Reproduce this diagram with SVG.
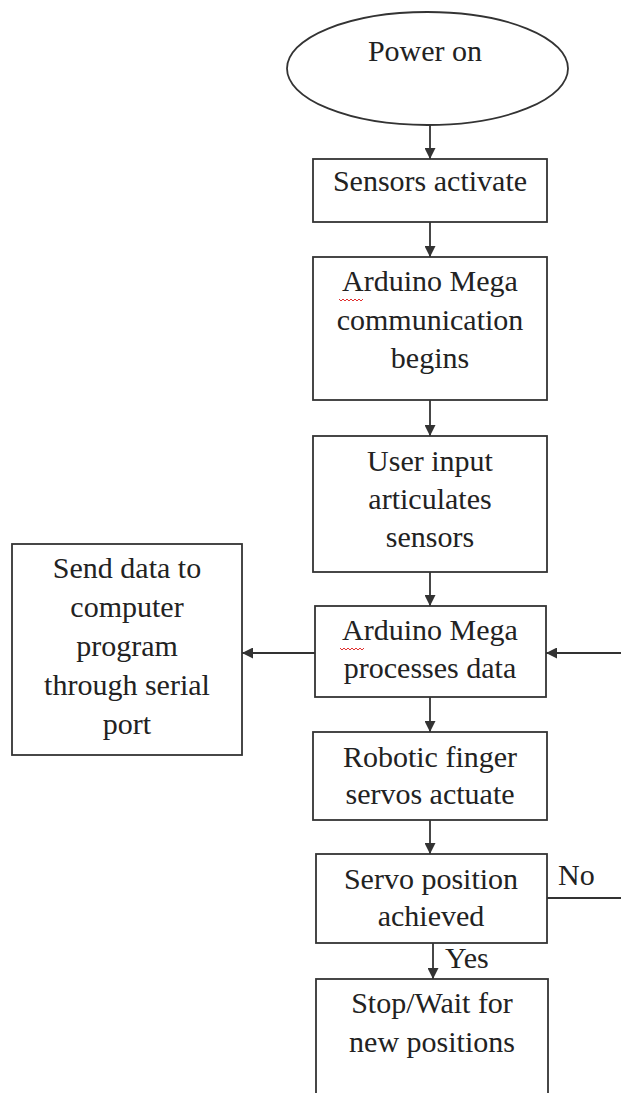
<svg xmlns="http://www.w3.org/2000/svg" width="621" height="1093" viewBox="0 0 621 1093">
<style>
.box{fill:#fff;stroke:#333;stroke-width:1.8}
.t{font-family:"Liberation Serif","Times New Roman",serif;font-size:30px;fill:#222;text-anchor:middle}
.l{font-family:"Liberation Serif","Times New Roman",serif;font-size:30px;fill:#222}
.c{fill:none;stroke:#333;stroke-width:1.8}
.sq{fill:none;stroke:#e03030;stroke-width:1}
</style>
<defs>
<marker id="ah" viewBox="0 0 10 10" refX="10" refY="5" markerWidth="11" markerHeight="11" markerUnits="userSpaceOnUse" orient="auto">
<path d="M0,0 L10,5 L0,10 z" fill="#333"/>
</marker>
</defs>
<rect width="621" height="1093" fill="#fff"/>
<g id="power-on">
<ellipse class="box" cx="427.5" cy="68.5" rx="140.5" ry="56.5"/>
<text class="t" x="425" y="61">Power on</text>
</g>
<g id="sensors-activate">
<rect class="box" x="313" y="159" width="234" height="63"/>
<text class="t" x="430" y="191">Sensors activate</text>
</g>
<g id="comm-begins">
<rect class="box" x="313" y="257" width="234" height="143"/>
<text class="t" x="430" y="291">Arduino Mega</text>
<text class="t" x="430" y="330">communication</text>
<text class="t" x="430" y="368">begins</text>
<path class="sq" d="M339,299 l2,2 l2,-2 l2,2 l2,-2 l2,2 l2,-2 l2,2 l2,-2 l2,2 l2,-2 l2,2 l2,-2"/>
</g>
<g id="user-input">
<rect class="box" x="313" y="436" width="234" height="136"/>
<text class="t" x="430" y="471">User input</text>
<text class="t" x="430" y="509">articulates</text>
<text class="t" x="430" y="547">sensors</text>
</g>
<g id="send-data">
<rect class="box" x="12" y="544" width="230" height="211"/>
<text class="t" x="127" y="578">Send data to</text>
<text class="t" x="127" y="617">computer</text>
<text class="t" x="127" y="656">program</text>
<text class="t" x="127" y="695">through serial</text>
<text class="t" x="127" y="734">port</text>
</g>
<g id="processes-data">
<rect class="box" x="315" y="606" width="231" height="91"/>
<text class="t" x="430" y="640">Arduino Mega</text>
<text class="t" x="430" y="678">processes data</text>
<path class="sq" d="M340,648 l2,2 l2,-2 l2,2 l2,-2 l2,2 l2,-2 l2,2 l2,-2 l2,2 l2,-2 l2,2 l2,-2"/>
</g>
<g id="servos-actuate">
<rect class="box" x="313" y="732" width="234" height="88"/>
<text class="t" x="430" y="767">Robotic finger</text>
<text class="t" x="430" y="804">servos actuate</text>
</g>
<g id="position-achieved">
<rect class="box" x="316" y="854" width="231" height="89"/>
<text class="t" x="431" y="889">Servo position</text>
<text class="t" x="431" y="926">achieved</text>
</g>
<g id="stop-wait">
<rect class="box" x="316" y="979" width="232" height="130"/>
<text class="t" x="432" y="1013">Stop/Wait for</text>
<text class="t" x="432" y="1052">new positions</text>
</g>
<g id="connectors">
<line class="c" x1="430" y1="125" x2="430" y2="159" marker-end="url(#ah)"/>
<line class="c" x1="430" y1="222" x2="430" y2="257" marker-end="url(#ah)"/>
<line class="c" x1="430" y1="400" x2="430" y2="436" marker-end="url(#ah)"/>
<line class="c" x1="430" y1="572" x2="430" y2="606" marker-end="url(#ah)"/>
<line class="c" x1="315" y1="653" x2="242" y2="653" marker-end="url(#ah)"/>
<line class="c" x1="621" y1="653" x2="546" y2="653" marker-end="url(#ah)"/>
<line class="c" x1="430" y1="697" x2="430" y2="732" marker-end="url(#ah)"/>
<line class="c" x1="430" y1="820" x2="430" y2="854" marker-end="url(#ah)"/>
<line class="c" x1="547" y1="898" x2="621" y2="898"/>
<line class="c" x1="433" y1="943" x2="433" y2="979" marker-end="url(#ah)"/>
<text class="l" x="558" y="885">No</text>
<text class="l" x="445" y="968">Yes</text>
</g>
</svg>
